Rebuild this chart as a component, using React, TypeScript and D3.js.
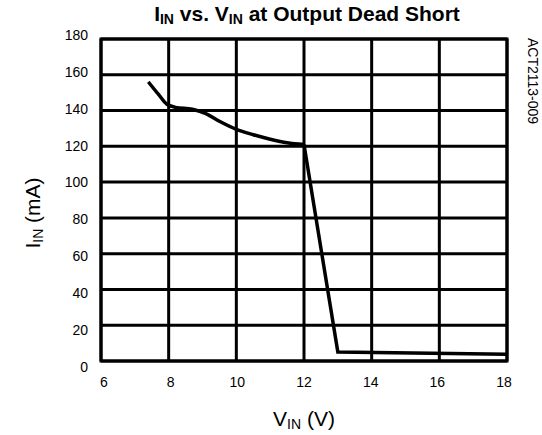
import React from "react";
import * as d3 from "d3";

const vinValues = [7.4, 7.7, 7.95, 8.2, 8.7, 9.1, 9.5, 10.0, 10.5, 11.0, 11.5, 12.0];
const iinValues = [156, 149, 143.5, 141.8, 140.7, 138.3, 134, 129.5, 126.5, 124, 122, 121];
const dropVin = [12.0, 13.0, 18];
const dropIin = [121, 5, 3.8];
const xTicks = [6, 8, 10, 12, 14, 16, 18];
const yTicks = [0, 20, 40, 60, 80, 100, 120, 140, 160, 180];

const W = 542;
const H = 435;
const M = { left: 101, right: 507, top: 39, bottom: 361 };
const FONT = "Arial, 'Liberation Sans', Helvetica, sans-serif";

export default function App() {
  const x = d3.scaleLinear().domain([6, 18]).range([M.left, M.right]);
  const y = d3.scaleLinear().domain([0, 180]).range([M.bottom, M.top]);
  const yLab = d3.scaleLinear().domain([0, 180]).range([366.5, 35]);
  const xLab = d3.scaleLinear().domain([6, 18]).range([104, 504]);

  const smooth = d3
    .line<number>()
    .x((_, i) => x(vinValues[i]))
    .y((d) => y(d))
    .curve(d3.curveMonotoneX)(iinValues) as string;
  const drop = d3
    .line<number>()
    .x((_, i) => x(dropVin[i]))
    .y((d) => y(d))(dropIin) as string;

  return (
    <svg
      width={W}
      height={H}
      style={{ position: "absolute", left: 0, top: 0, display: "block", background: "#fff" }}
      fontFamily={FONT}
    >
      {/* grid */}
      {xTicks.map((t) => (
        <line key={"gx" + t} x1={x(t)} x2={x(t)} y1={M.top} y2={M.bottom} stroke="#000" strokeWidth={3} />
      ))}
      {yTicks.map((t) => (
        <line key={"gy" + t} x1={M.left} x2={M.right} y1={y(t)} y2={y(t)} stroke="#000" strokeWidth={3} />
      ))}
      <rect x={M.left} y={M.top} width={M.right - M.left} height={M.bottom - M.top} fill="none" stroke="#000" strokeWidth={3} strokeLinecap="square" />

      {/* curve */}
      <path d={smooth} fill="none" stroke="#000" strokeWidth={3.5} strokeLinejoin="round" />
      <path d={drop} fill="none" stroke="#000" strokeWidth={3.5} strokeLinejoin="miter" />

      {/* tick labels */}
      {yTicks.map((t) => (
        <text key={"ly" + t} x={88} y={yLab(t)} textAnchor="end" dominantBaseline="central" fontSize={14} fill="#000">
          {t}
        </text>
      ))}
      {xTicks.map((t) => (
        <text key={"lx" + t} x={xLab(t)} y={381.5} textAnchor="middle" dominantBaseline="central" fontSize={14} fill="#000">
          {t}
        </text>
      ))}

      {/* title */}
      <text x={307} y={21} textAnchor="middle" fontSize={21} fontWeight="bold" fill="#000">
        I<tspan fontSize={14} dy={3}>IN</tspan>
        <tspan dy={-3}> vs. V</tspan>
        <tspan fontSize={14} dy={3}>IN</tspan>
        <tspan dy={-3}> at Output Dead Short</tspan>
      </text>

      {/* x axis label */}
      <text x={304} y={426} textAnchor="middle" fontSize={21} fill="#000">
        V<tspan fontSize={14} dy={3}>IN</tspan>
        <tspan dy={-3}> (V)</tspan>
      </text>

      {/* y axis label */}
      <text transform="translate(40,213) rotate(-90)" textAnchor="middle" fontSize={21} fill="#000">
        I<tspan fontSize={14} dy={3}>IN</tspan>
        <tspan dy={-3}> (mA)</tspan>
      </text>

      {/* side label */}
      <text transform="translate(528,38) rotate(90)" textAnchor="start" fontSize={14} fill="#000">
        ACT2113-009
      </text>
    </svg>
  );
}
